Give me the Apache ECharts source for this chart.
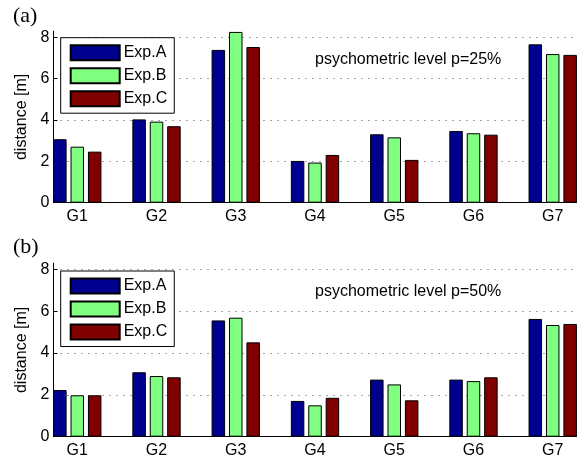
<!DOCTYPE html>
<html>
<head>
<meta charset="utf-8">
<script src="https://cdn.jsdelivr.net/npm/echarts@6/dist/echarts.min.js"></script>
<style>
  html, body { margin: 0; padding: 0; background: #fff; }
  #chart { width: 583px; height: 461px; }
</style>
</head>
<body>
<div id="chart"></div>
<script>
// Groups on the x axis
const groups = ['G1', 'G2', 'G3', 'G4', 'G5', 'G6', 'G7'];
const seriesNames = ['Exp.A', 'Exp.B', 'Exp.C'];
const yTicks = [0, 2, 4, 6, 8];

// Panel (a): psychometric level p=25%
const p25A = [3.07, 4.03, 7.39, 2.02, 3.31, 3.47, 7.66];
const p25B = [2.71, 3.92, 8.26, 1.94, 3.16, 3.36, 7.19];
const p25C = [2.47, 3.70, 7.53, 2.31, 2.07, 3.29, 7.15];

// Panel (b): psychometric level p=50%
const p50A = [2.23, 3.08, 5.56, 1.71, 2.73, 2.73, 5.63];
const p50B = [1.98, 2.90, 5.69, 1.50, 2.50, 2.66, 5.34];
const p50C = [1.98, 2.84, 4.51, 1.86, 1.74, 2.84, 5.39];

const colors = ['#00008f', '#80ff80', '#800000'];
const FONT = '"Liberation Sans", Arial, Helvetica, sans-serif';

const chart = echarts.init(document.getElementById('chart'), null, { renderer: 'canvas' });

const grids = [
  { left: 53.5, top: 31.1, width: 523, height: 171.6 },
  { left: 53.5, top: 263.1, width: 523, height: 173.6 }
];

function makeXAxis(gi) {
  return {
    type: 'value', gridIndex: gi, min: 0.7, max: 7.3,
    axisLine: { show: true, onZero: false, lineStyle: { color: '#000', width: 1 } },
    axisTick: { show: false, customValues: [1, 2, 3, 4, 5, 6, 7] },
    splitLine: { show: false },
    axisLabel: {
      customValues: [1, 2, 3, 4, 5, 6, 7],
      formatter: v => groups[Math.round(v) - 1],
      color: '#000', fontFamily: FONT, fontSize: 16, margin: 6
    }
  };
}

function makeYAxis(gi) {
  return {
    type: 'value', gridIndex: gi, min: 0, max: 8.3,
    name: 'distance [m]', nameLocation: 'middle', nameGap: 23,
    nameTextStyle: { color: '#000', fontFamily: FONT, fontSize: 16 },
    axisLine: { show: true, onZero: false, lineStyle: { color: '#000', width: 1 } },
    axisTick: { show: true, inside: true, length: 4, customValues: yTicks, lineStyle: { color: '#000' } },
    splitLine: { show: true, lineStyle: { color: '#444', width: 1, type: [1, 6] } },
    axisLabel: {
      customValues: yTicks,
      color: '#000', fontFamily: FONT, fontSize: 16, margin: 4
    }
  };
}

function makeBars(gi, valuesList) {
  return valuesList.map((vals, i) => ({
    name: seriesNames[i],
    type: 'bar',
    xAxisIndex: gi, yAxisIndex: gi,
    barWidth: 13.5,
    barGap: '29%',
    itemStyle: { color: colors[i], borderColor: '#000', borderWidth: 1 },
    data: vals.map((v, k) => [k + 1, v])
  }));
}

function makeLegend(top) {
  return {
    orient: 'vertical', left: 60.7, top: top,
    icon: 'rect', itemWidth: 49, itemHeight: 15, itemGap: 6,
    padding: [6.5, 7, 6, 9],
    backgroundColor: '#fff', borderColor: '#000', borderWidth: 1,
    textStyle: { color: '#000', fontFamily: FONT, fontSize: 16, lineHeight: 15, padding: [0, 0, 0, -1] },
    data: seriesNames,
    selectedMode: false
  };
}

const option = {
  animation: false,
  backgroundColor: '#fff',
  grid: grids,
  xAxis: [makeXAxis(0), makeXAxis(1)],
  yAxis: [makeYAxis(0), makeYAxis(1)],
  legend: [makeLegend(37.7), makeLegend(271)],
  series: [
    ...makeBars(0, [p25A, p25B, p25C]),
    ...makeBars(1, [p50A, p50B, p50C])
  ],
  graphic: [
    { type: 'text', x: 13, y: 16.5, style: { text: '(a)', font: '22px "Liberation Serif", "Times New Roman", serif', fill: '#000', verticalAlign: 'middle' } },
    { type: 'text', x: 13, y: 247.5, style: { text: '(b)', font: '22px "Liberation Serif", "Times New Roman", serif', fill: '#000', verticalAlign: 'middle' } },
    { type: 'text', x: 315, y: 59.3, style: { text: 'psychometric level p=25%', font: '16px ' + FONT, fill: '#000', verticalAlign: 'middle' } },
    { type: 'text', x: 315, y: 291.7, style: { text: 'psychometric level p=50%', font: '16px ' + FONT, fill: '#000', verticalAlign: 'middle' } }
  ]
};

chart.setOption(option);
</script>
</body>
</html>
